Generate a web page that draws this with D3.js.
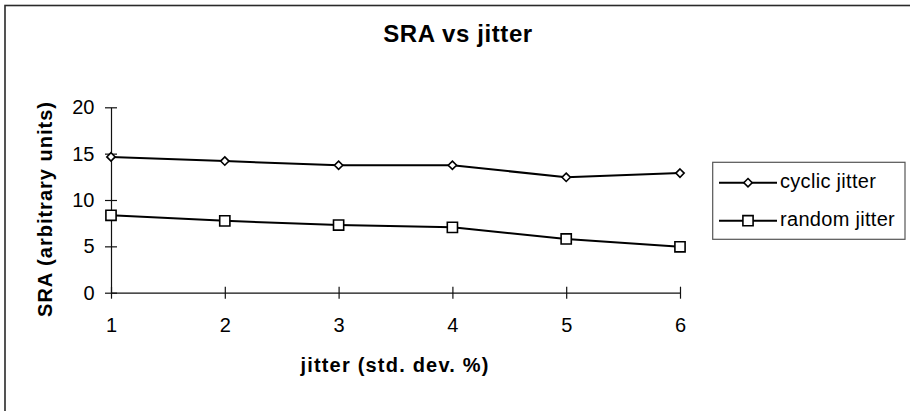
<!DOCTYPE html>
<html>
<head>
<meta charset="utf-8">
<script src="https://cdn.jsdelivr.net/npm/d3@7"></script>
<style>
  html, body { margin: 0; padding: 0; background: #fff; }
  svg { display: block; }
  text { font-family: "Liberation Sans", Arial, sans-serif; fill: #000; }
</style>
</head>
<body>
<svg id="chart" width="910" height="411"></svg>
<script>
// Jitter levels (std. dev. %) on the x axis
const jitterLevels = [1, 2, 3, 4, 5, 6];
// SRA measured for each jitter type
const cyclicJitter = [14.65, 14.2, 13.75, 13.75, 12.45, 12.9];
const randomJitter = [8.35, 7.75, 7.3, 7.05, 5.8, 4.95];
const yTicks = [0, 5, 10, 15, 20];
const seriesNames = ["cyclic jitter", "random jitter"];

const svg = d3.select("#chart");

// outer chart frame (runs off the right and bottom edges)
svg.append("rect")
  .attr("x", 5).attr("y", 5.5)
  .attr("width", 1000).attr("height", 1000)
  .attr("fill", "none").attr("stroke", "#2a2a2a").attr("stroke-width", 1.6);

const x = d3.scaleLinear().domain([1, 6]).range([111, 680]);
const y = d3.scaleLinear().domain([0, 20]).range([292.7, 107.3]);

// title
svg.append("text")
  .attr("x", 458).attr("y", 42)
  .attr("text-anchor", "middle")
  .attr("font-size", 24).attr("font-weight", "bold")
  .attr("letter-spacing", 0.6)
  .text("SRA vs jitter");

// y axis
const yAxis = d3.axisLeft(y).tickValues(yTicks).tickSizeInner(6).tickSizeOuter(0).tickPadding(10);
const gy = svg.append("g").attr("transform", `translate(${x(1)},0)`).call(yAxis);
gy.select(".domain").attr("stroke", "#111").attr("stroke-width", 1.2);
gy.selectAll(".tick line").attr("x1", -6).attr("x2", 6).attr("stroke", "#111").attr("stroke-width", 1.2);
gy.selectAll(".tick text")
  .attr("x", -16.5)
  .attr("font-size", 20).attr("font-family", "Liberation Sans, Arial, sans-serif").attr("fill", "#000");

// x axis
const xAxis = d3.axisBottom(x).tickValues(jitterLevels).tickSizeInner(6).tickSizeOuter(0).tickPadding(20)
  .tickFormat(d3.format("d"));
const gx = svg.append("g").attr("transform", `translate(0,${y(0)})`).call(xAxis);
gx.select(".domain").attr("stroke", "#111").attr("stroke-width", 1.2);
gx.selectAll(".tick line").attr("y1", -6).attr("y2", 6).attr("stroke", "#111").attr("stroke-width", 1.2);
gx.selectAll(".tick text")
  .attr("y", 0).attr("dy", null)
  .attr("transform", "translate(0,39)")
  .attr("font-size", 20).attr("font-family", "Liberation Sans, Arial, sans-serif").attr("fill", "#000");

// axis titles
svg.append("text")
  .attr("x", 395).attr("y", 372)
  .attr("text-anchor", "middle")
  .attr("font-size", 20).attr("font-weight", "bold")
  .attr("letter-spacing", 1.2)
  .text("jitter (std. dev. %)");

svg.append("text")
  .attr("transform", "translate(52,209) rotate(-90)")
  .attr("text-anchor", "middle")
  .attr("font-size", 20).attr("font-weight", "bold")
  .attr("letter-spacing", 1)
  .text("SRA (arbitrary units)");

// series
const line = d3.line().x((d, i) => x(jitterLevels[i])).y(d => y(d));
const diamond = d3.symbol().type(d3.symbolDiamond2).size(44);
const square = d3.symbol().type(d3.symbolSquare2).size(132);

function drawSeries(values, sym) {
  svg.append("path").datum(values)
    .attr("d", line)
    .attr("fill", "none").attr("stroke", "#000").attr("stroke-width", 2);
  svg.append("g").selectAll("path").data(values).join("path")
    .attr("transform", (d, i) => `translate(${x(jitterLevels[i])},${y(d)})`)
    .attr("d", sym)
    .attr("fill", "#fff").attr("stroke", "#000").attr("stroke-width", 1.6);
}
drawSeries(cyclicJitter, diamond);
drawSeries(randomJitter, square);

// legend
const legend = svg.append("g");
legend.append("rect")
  .attr("x", 712.7).attr("y", 162.3).attr("width", 192.3).attr("height", 77)
  .attr("fill", "#fff").attr("stroke", "#555").attr("stroke-width", 1.2);
const rowY = [182.7, 220.7];
const syms = [diamond, square];
seriesNames.forEach((name, i) => {
  legend.append("line")
    .attr("x1", 719).attr("x2", 777).attr("y1", rowY[i]).attr("y2", rowY[i])
    .attr("stroke", "#000").attr("stroke-width", 2);
  legend.append("path")
    .attr("transform", `translate(748,${rowY[i]})`)
    .attr("d", syms[i])
    .attr("fill", "#fff").attr("stroke", "#000").attr("stroke-width", 1.6);
  legend.append("text")
    .attr("x", 780).attr("y", rowY[i] + 5.5)
    .attr("font-size", 20)
    .attr("letter-spacing", 0.3)
    .text(name);
});
</script>
</body>
</html>
